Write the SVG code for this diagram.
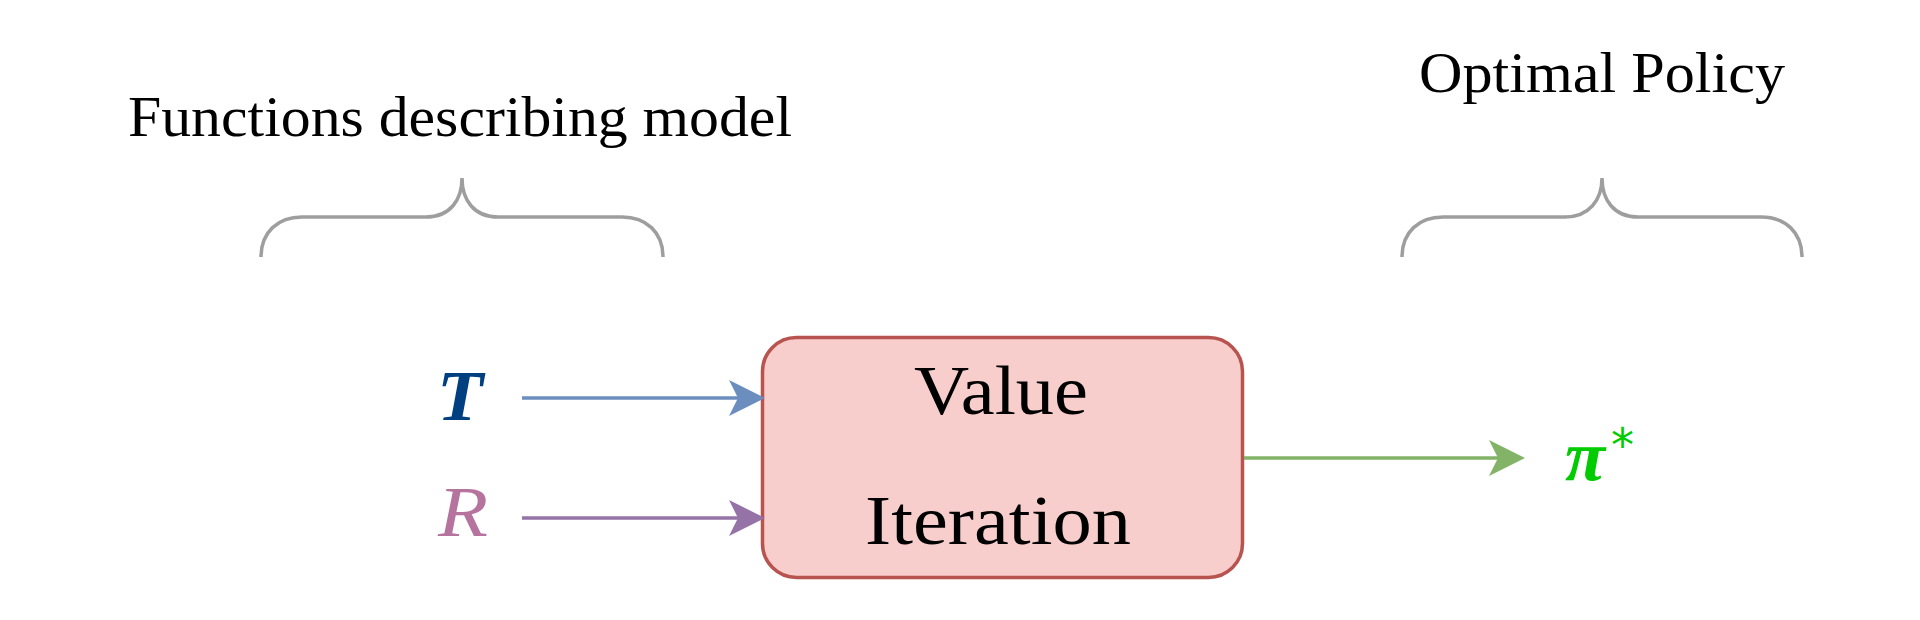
<svg xmlns="http://www.w3.org/2000/svg" width="1920" height="620" viewBox="0 0 1920 620">
  <style>
    .lbl { font-family: "Liberation Serif", "DejaVu Serif", serif; fill: #000000; }
    .brace { fill: none; stroke: #9e9e9e; stroke-width: 3.5; }
    .conn { fill: none; stroke-width: 3.5; }
    .math { font-family: "Liberation Serif", "DejaVu Serif", serif; font-style: italic; }
  </style>
  <defs>
    <marker id="arrBlue" markerUnits="userSpaceOnUse" viewBox="0 0 36 36" markerWidth="36" markerHeight="36" refX="32" refY="18" orient="auto">
      <path d="M36,18 L0,0 L9,18 L0,36 Z" fill="#6c8ebf"/>
    </marker>
    <marker id="arrPurple" markerUnits="userSpaceOnUse" viewBox="0 0 36 36" markerWidth="36" markerHeight="36" refX="32" refY="18" orient="auto">
      <path d="M36,18 L0,0 L9,18 L0,36 Z" fill="#9673a6"/>
    </marker>
    <marker id="arrGreen" markerUnits="userSpaceOnUse" viewBox="0 0 36 36" markerWidth="36" markerHeight="36" refX="32" refY="18" orient="auto">
      <path d="M36,18 L0,0 L9,18 L0,36 Z" fill="#82b366"/>
    </marker>
  </defs>
  <rect x="0" y="0" width="1920" height="620" fill="#ffffff"/>

  <g id="label-functions">
    <text class="lbl" x="128" y="136" font-size="56" textLength="664" lengthAdjust="spacingAndGlyphs">Functions describing model</text>
  </g>
  <g id="brace-left">
    <path class="brace" d="M261,257 C261,232 278,217 302,217 L426,217 C450,217 462,200 462,178 C462,200 474,217 498,217 L622,217 C646,217 663,232 663,257"/>
  </g>

  <g id="label-optimal">
    <text class="lbl" x="1419" y="92" font-size="56" textLength="366" lengthAdjust="spacingAndGlyphs">Optimal Policy</text>
  </g>
  <g id="brace-right">
    <path class="brace" d="M1402,257 C1402,232 1419,217 1443,217 L1565,217 C1589,217 1602,200 1602,178 C1602,200 1614,217 1638,217 L1761,217 C1785,217 1802,232 1802,257"/>
  </g>

  <g id="node-T">
    <text class="math" x="437" y="420" font-size="72" font-weight="bold" fill="#004080" textLength="46" lengthAdjust="spacingAndGlyphs">T</text>
  </g>
  <g id="node-R">
    <text class="math" x="438" y="536" font-size="72" fill="#b5739d" textLength="50" lengthAdjust="spacingAndGlyphs">R</text>
  </g>

  <g id="node-value-iteration">
    <rect x="762.5" y="337.5" width="480" height="240" rx="34" ry="34" fill="#f8cecc" stroke="#b85450" stroke-width="3.5"/>
    <text class="lbl" x="1001" y="414" font-size="69" text-anchor="middle" textLength="174" lengthAdjust="spacingAndGlyphs">Value</text>
    <text class="lbl" x="998" y="544" font-size="69" text-anchor="middle" textLength="266" lengthAdjust="spacingAndGlyphs">Iteration</text>
  </g>

  <g id="node-pi">
    <text x="1565" y="480" font-family="Liberation Serif, DejaVu Serif, serif" font-style="italic" font-weight="bold" font-size="72" fill="#00cc00"><tspan textLength="40" lengthAdjust="spacingAndGlyphs">π</tspan><tspan x="1611" y="461" font-family="DejaVu Sans, sans-serif" font-style="normal" font-weight="normal" font-size="46">*</tspan></text>
  </g>

  <g id="connectors">
    <line class="conn" x1="522" y1="398" x2="761" y2="398" stroke="#6c8ebf" marker-end="url(#arrBlue)"/>
    <line class="conn" x1="522" y1="518" x2="761" y2="518" stroke="#9673a6" marker-end="url(#arrPurple)"/>
    <line class="conn" x1="1244" y1="458" x2="1521" y2="458" stroke="#82b366" marker-end="url(#arrGreen)"/>
  </g>
</svg>
